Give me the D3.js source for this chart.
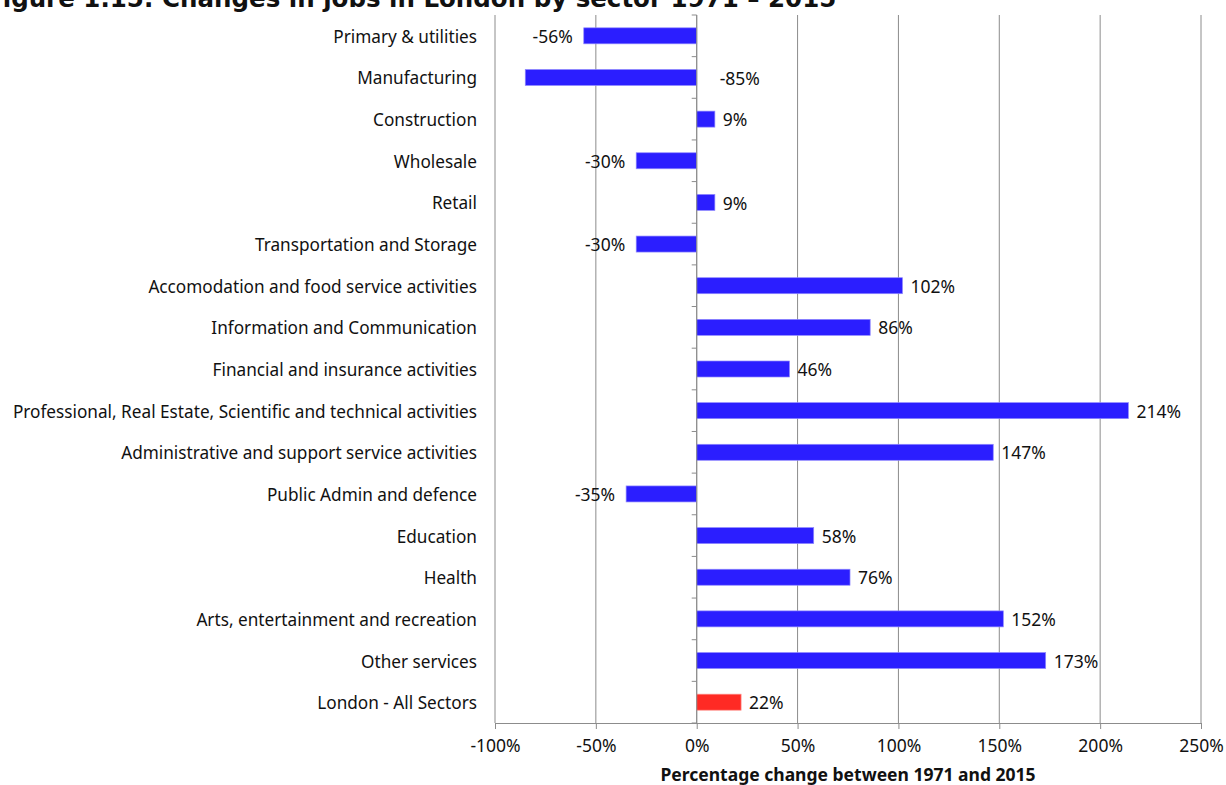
<!DOCTYPE html>
<html>
<head>
<meta charset="utf-8">
<script src="https://cdn.jsdelivr.net/npm/d3@7"></script>
<style>
  body { margin: 0; background: #fff; }
  svg { display: block; }
  text { font-family: "Noto Sans", "Open Sans", sans-serif; fill: #111; }
</style>
</head>
<body>
<div id="chart-area"></div>
<script>
var sectors = ["Primary & utilities", "Manufacturing", "Construction", "Wholesale", "Retail",
  "Transportation and Storage", "Accomodation and food service activities",
  "Information and Communication", "Financial and insurance activities",
  "Professional, Real Estate, Scientific and technical activities",
  "Administrative and support service activities", "Public Admin and defence",
  "Education", "Health", "Arts, entertainment and recreation", "Other services",
  "London - All Sectors"];
var changes = [-56, -85, 9, -30, 9, -30, 102, 86, 46, 214, 147, -35, 58, 76, 152, 173, 22];
var xTicks = [-100, -50, 0, 50, 100, 150, 200, 250];

var width = 1226, height = 785;
var margin = {top: 15, right: 25, bottom: 62, left: 495};
var innerW = width - margin.left - margin.right;
var innerH = height - margin.top - margin.bottom;

var svg = d3.select("#chart-area").append("svg")
  .attr("width", width)
  .attr("height", height);

// title (cut off at the top / left like the original)
svg.append("text")
  .attr("x", -14)
  .attr("y", 7)
  .attr("font-size", "24.5px")
  .attr("font-weight", "bold")
  .style("font-family", "'DejaVu Sans', sans-serif")
  .text("Figure 1.15: Changes in jobs in London by sector 1971 \u2013 2015");

var g = svg.append("g")
  .attr("transform", "translate(" + margin.left + "," + margin.top + ")");

var x = d3.scaleLinear()
  .domain([-100, 250])
  .range([0, innerW]);
var y = d3.scaleBand()
  .domain(sectors)
  .range([0, innerH]);

// gridlines
g.selectAll(".grid")
  .data(xTicks)
  .enter().append("line")
  .attr("x1", (d) => x(d)).attr("x2", (d) => x(d))
  .attr("y1", 0).attr("y2", innerH)
  .attr("stroke", "#8c8c8c")
  .attr("stroke-width", 1);

// bars
var barH = 16;
g.selectAll(".bar")
  .data(changes)
  .enter().append("rect")
  .attr("x", (d) => x(Math.min(0, d)))
  .attr("y", (d, i) => y(sectors[i]) + y.bandwidth() / 2 - barH / 2)
  .attr("width", (d) => Math.abs(x(d) - x(0)))
  .attr("height", barH)
  .attr("fill", (d, i) => i == sectors.length - 1 ? "#ff2a24" : "#2b1eff")
  .attr("stroke", (d, i) => i == sectors.length - 1 ? "#ff8f8a" : "#8f88ff")
  .attr("stroke-width", 0.7);

// value labels
g.selectAll(".val")
  .data(changes)
  .enter().append("text")
  .attr("x", (d) => {
    if (d >= 0) return x(d) + 8;
    // not enough room left of the bar: put it right of zero
    if (x(d) < 50) return x(0) + 23;
    return x(d) - 11;
  })
  .attr("y", (d, i) => y(sectors[i]) + y.bandwidth() / 2 + 1)
  .attr("dy", "0.35em")
  .attr("font-size", "17.5px")
  .attr("text-anchor", (d) => (d < 0 && x(d) >= 50) ? "end" : "start")
  .text((d) => d + "%");

// y axis at zero
g.append("line")
  .attr("x1", x(0)).attr("x2", x(0))
  .attr("y1", 0).attr("y2", innerH)
  .attr("stroke", "#8c8c8c");
var bounds = d3.range(sectors.length + 1).map((i) => i * y.step());
g.selectAll(".ytick")
  .data(bounds)
  .enter().append("line")
  .attr("x1", x(0) - 5).attr("x2", x(0))
  .attr("y1", (d) => d).attr("y2", (d) => d)
  .attr("stroke", "#8c8c8c");

// category labels
g.selectAll(".cat")
  .data(sectors)
  .enter().append("text")
  .attr("x", -18)
  .attr("y", (d) => y(d) + y.bandwidth() / 2 + 1)
  .attr("dy", "0.35em")
  .attr("text-anchor", "end")
  .attr("font-size", "17.2px")
  .text((d) => d);

// x axis
var xAxis = g.append("g")
  .attr("transform", "translate(0," + innerH + ")")
  .call(d3.axisBottom(x).tickValues(xTicks).tickSize(6).tickFormat((d) => d + "%"));
xAxis.select(".domain").attr("stroke", "#8c8c8c");
xAxis.selectAll(".tick line").attr("stroke", "#8c8c8c");
xAxis.selectAll("text")
  .attr("font-size", "17.5px")
  .attr("y", 17)
  .style("font-family", "'Noto Sans', sans-serif")
  .attr("fill", "#111");

// x label
g.append("text")
  .attr("x", innerW / 2)
  .attr("y", innerH + 58)
  .attr("text-anchor", "middle")
  .attr("font-size", "17.5px")
  .attr("font-weight", "bold")
  .text("Percentage change between 1971 and 2015");
</script>
</body>
</html>
